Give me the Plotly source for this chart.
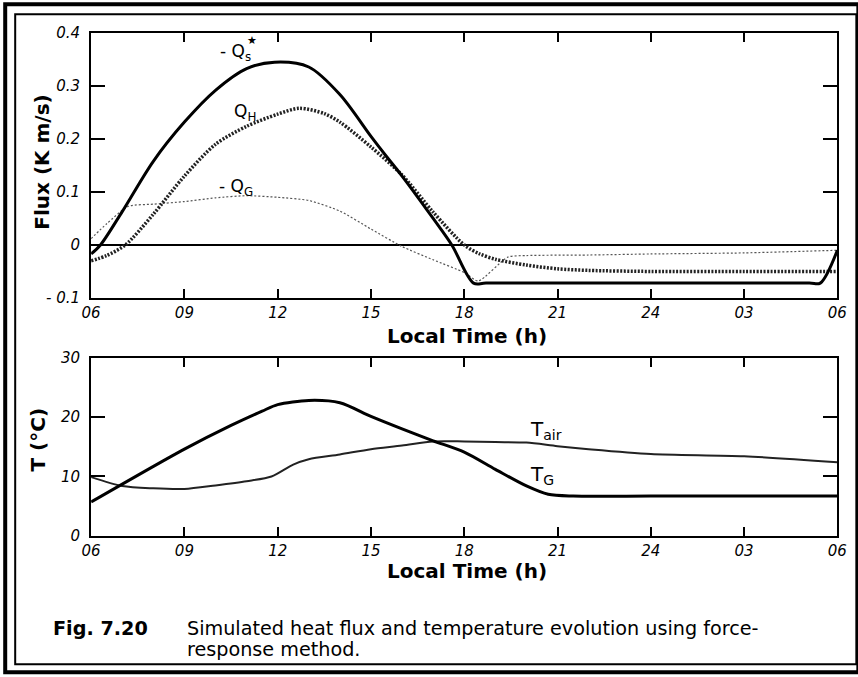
import plotly.graph_objects as go

# ---------------- data (hours from 06 local time, 6..30) ----------------
qs_t = [6, 6.3, 7, 8, 9, 10, 11, 11.9, 13, 14, 15, 15.5, 16, 17, 17.6, 18.3, 18.7, 24, 29.1, 29.45, 30]
qs_v = [-0.017, 0.0, 0.063, 0.158, 0.232, 0.292, 0.333, 0.345, 0.336, 0.284, 0.205, 0.167,
        0.13, 0.05, 0.0, -0.072, -0.072, -0.072, -0.072, -0.072, -0.01]

qh_t = [6, 6.5, 7.1, 8, 9, 10, 11, 12, 12.7, 13.5, 14, 15, 16, 17, 18, 18.5, 19, 20, 21, 22, 24, 27, 30]
qh_v = [-0.03, -0.02, 0.0, 0.058, 0.13, 0.19, 0.224, 0.247, 0.258, 0.248, 0.232, 0.185, 0.132,
        0.062, 0.0, -0.017, -0.027, -0.038, -0.045, -0.048, -0.05, -0.05, -0.05]

qg_t = [6, 6.5, 7.2, 8, 9, 10, 11, 12, 13, 14, 15, 16, 17, 18, 18.45, 19.4, 20, 22, 24, 27, 30]
qg_v = [0.012, 0.04, 0.073, 0.077, 0.082, 0.089, 0.093, 0.09, 0.084, 0.064, 0.03, -0.003,
        -0.028, -0.052, -0.068, -0.023, -0.02, -0.019, -0.017, -0.015, -0.01]

tg_t = [6, 9, 10.5, 11.5, 12, 13, 14, 15, 16, 17, 18, 19, 20, 20.7, 21.5, 24, 27, 30]
tg_v = [5.7, 14.6, 18.6, 21.0, 22.1, 22.8, 22.4, 20.1, 18.0, 16.0, 14.1, 11.2, 8.4, 7.0, 6.7, 6.7, 6.7, 6.7]

ta_t = [6, 7, 8, 9, 10, 11, 11.8, 12.5, 13, 14, 15, 16, 17, 18, 19, 20, 21, 22, 24, 27, 30]
ta_v = [9.9, 8.4, 8.0, 7.9, 8.5, 9.2, 10.0, 12.0, 12.9, 13.7, 14.6, 15.2, 15.9, 15.9, 15.8, 15.7,
        15.1, 14.6, 13.8, 13.4, 12.4]

x_ticks = [6, 9, 12, 15, 18, 21, 24, 27, 30]
x_tick_text = ["06", "09", "12", "15", "18", "21", "24", "03", "06"]
flux_ticks = [-0.1, 0, 0.1, 0.2, 0.3, 0.4]
flux_tick_text = ["- 0.1", "0", "0.1", "0.2", "0.3", "0.4"]
temp_ticks = [0, 10, 20, 30]
temp_tick_text = ["0", "10", "20", "30"]

# layout helpers: target screen pixel -> paper fraction
OFF, SCALE = 7.8, 0.978
W, H = 870, 685
def fx(px):
    return (px - OFF) / SCALE / W
def fy(py):
    return 1 - (py - OFF) / SCALE / H

fig = go.Figure()

# top panel
fig.add_trace(go.Scatter(x=qg_t, y=qg_v, mode="lines",
                         line=dict(color="#555", width=1.2, dash="2px,2px", shape="spline", smoothing=0.6),
                         xaxis="x", yaxis="y", showlegend=False))
fig.add_trace(go.Scatter(x=qh_t, y=qh_v, mode="lines",
                         line=dict(color="#222", width=3.5, dash="2px,1.5px", shape="spline", smoothing=0.8),
                         xaxis="x", yaxis="y", showlegend=False))
fig.add_trace(go.Scatter(x=qs_t, y=qs_v, mode="lines",
                         line=dict(color="black", width=3, shape="spline", smoothing=0.9),
                         xaxis="x", yaxis="y", showlegend=False))

# bottom panel
fig.add_trace(go.Scatter(x=ta_t, y=ta_v, mode="lines",
                         line=dict(color="#222", width=2, shape="spline", smoothing=0.8),
                         xaxis="x2", yaxis="y2", showlegend=False))
fig.add_trace(go.Scatter(x=tg_t, y=tg_v, mode="lines",
                         line=dict(color="black", width=3, shape="spline", smoothing=0.8),
                         xaxis="x2", yaxis="y2", showlegend=False))

tickfont = dict(family="DejaVu Sans", size=15, color="black", style="italic")
xcommon = dict(range=[6, 30], tickvals=x_ticks, ticktext=x_tick_text, ticks="inside", ticklen=9,
               tickwidth=1.5, tickcolor="black", showline=True, linewidth=2, linecolor="black",
               mirror="ticks", showgrid=False, zeroline=False, tickfont=tickfont,
               domain=[fx(89), fx(836)])
ycommon = dict(ticks="inside", ticklen=14, tickwidth=1.5, tickcolor="black", showline=True,
               linewidth=2, linecolor="black", mirror="ticks", showgrid=False, tickfont=tickfont,
               ticklabelstandoff=6)

fig.update_layout(
    width=W, height=H,
    margin=dict(l=0, r=0, t=0, b=0),
    paper_bgcolor="white", plot_bgcolor="white",
    xaxis=dict(xcommon, anchor="y"),
    yaxis=dict(ycommon, range=[-0.1, 0.4], tickvals=flux_ticks, ticktext=flux_tick_text,
               zeroline=True, zerolinecolor="black", zerolinewidth=2,
               domain=[fy(298), fy(32)], anchor="x"),
    xaxis2=dict(xcommon, anchor="y2"),
    yaxis2=dict(ycommon, range=[0, 30], tickvals=temp_ticks, ticktext=temp_tick_text,
                zeroline=False, domain=[fy(537), fy(358)], anchor="x2"),
)

title_font = dict(family="DejaVu Sans", size=20, color="black", weight="bold")
label_font = dict(family="DejaVu Sans", size=17, color="black")
cap_font = dict(family="DejaVu Sans", size=19.2, color="black")
anns = [
    dict(x=fx(465), y=fy(336), text="Local Time (h)", font=title_font),
    dict(x=fx(465), y=fy(572), text="Local Time (h)", font=title_font),
    dict(x=fx(39), y=fy(162), text="Flux (K m/s)", font=title_font, textangle=-90),
    dict(x=fx(36), y=fy(440), text="T (°C)", font=title_font, textangle=-90),
    dict(x=fx(216), y=fy(51), text="- Q<sub>s</sub>", font=label_font, xanchor="left"),
    dict(x=fx(250), y=fy(39), text="★", font=dict(family="DejaVu Sans", size=11, color="black")),
    dict(x=fx(230), y=fy(112), text="Q<sub>H</sub>", font=label_font, xanchor="left"),
    dict(x=fx(215), y=fy(187), text="- Q<sub>G</sub>", font=label_font, xanchor="left"),
    dict(x=fx(526), y=fy(431), text="T<sub>air</sub>", font=dict(family="DejaVu Sans", size=20, color="black"),
         xanchor="left"),
    dict(x=fx(526), y=fy(476), text="T<sub>G</sub>", font=dict(family="DejaVu Sans", size=20, color="black"),
         xanchor="left"),
    dict(x=fx(49), y=fy(630), text="Fig. 7.20", font=dict(cap_font, weight="bold"), xanchor="left"),
    dict(x=fx(183), y=fy(630), text="Simulated heat flux and temperature evolution using force-",
         font=cap_font, xanchor="left"),
    dict(x=fx(183), y=fy(651), text="response method.", font=cap_font, xanchor="left"),
]
for a in anns:
    a.setdefault("xref", "paper")
    a.setdefault("yref", "paper")
    a.setdefault("showarrow", False)
    a.setdefault("xanchor", "center")
    a.setdefault("yanchor", "middle")
    fig.add_annotation(**a)

# page frame (double border)
shapes = [
    dict(x0=fx(3), x1=fx(857), y0=fy(674), y1=fy(3), line=dict(color="black", width=4)),
    dict(x0=fx(13), x1=fx(855), y0=fy(666), y1=fy(13), line=dict(color="black", width=2)),
]
for s in shapes:
    fig.add_shape(type="rect", xref="paper", yref="paper", fillcolor="rgba(0,0,0,0)", **s)

fig.write_html("out.html")
